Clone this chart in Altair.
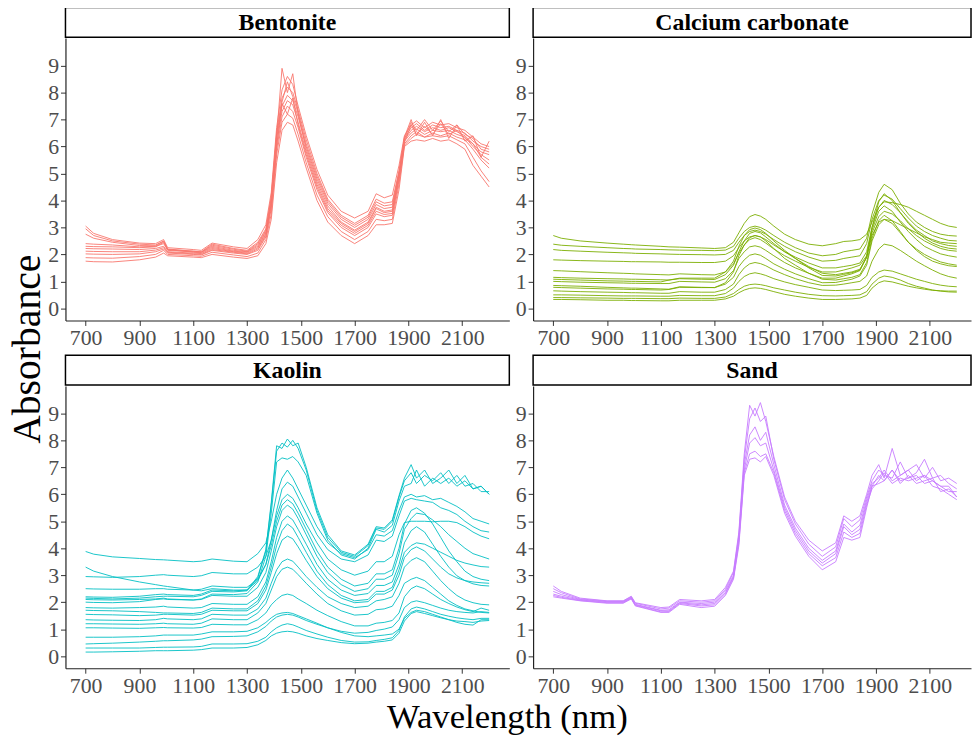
import altair as alt
import pandas as pd

SERIF = "Liberation Serif"

WL = [700, 730, 800, 900, 960, 990, 1005,
      1100, 1130, 1170, 1250, 1300, 1340, 1370,
      1390, 1410, 1430, 1450, 1470, 1490, 1520,
      1560, 1600, 1650, 1700, 1750, 1780, 1810,
      1840, 1865, 1885, 1910, 1930, 1960, 1990,
      2020, 2050, 2080, 2110, 2140, 2170, 2200]

X_TICKS = [700, 900, 1100, 1300, 1500, 1700, 1900, 2100]
Y_TICKS = [0, 1, 2, 3, 4, 5, 6, 7, 8, 9]

PANELS = ["Bentonite", "Calcium carbonate", "Kaolin", "Sand"]
COLORS = ["#F8766D", "#7CAE00", "#00BFC4", "#C77CFF"]

BENTONITE = [
    [1.75, 1.73, 1.72, 1.80, 1.90, 2.05, 1.95,
     1.90, 1.88, 2.00, 1.90, 1.85, 1.95, 2.40,
     3.30, 5.40, 6.60, 6.90, 6.80, 6.20, 5.20,
     4.00, 3.20, 2.70, 2.40, 2.70, 3.10, 3.10,
     3.15, 4.40, 6.00, 6.20, 6.25, 6.20, 6.30,
     6.20, 6.25, 6.10, 5.90, 5.30, 4.90, 4.50],
    [1.88, 1.87, 1.86, 1.92, 2.00, 2.15, 2.00,
     1.95, 1.93, 2.08, 1.98, 1.92, 2.05, 2.55,
     3.50, 5.70, 6.90, 7.20, 7.05, 6.45, 5.40,
     4.20, 3.40, 2.85, 2.55, 2.85, 3.30, 3.25,
     3.30, 4.60, 6.05, 6.30, 6.45, 6.35, 6.40,
     6.35, 6.40, 6.25, 6.10, 5.60, 5.10, 4.70],
    [2.02, 2.01, 2.00, 2.02, 2.10, 2.20, 2.05,
     2.00, 1.98, 2.15, 2.05, 2.00, 2.15, 2.65,
     3.70, 5.90, 7.10, 7.50, 7.30, 6.70, 5.60,
     4.40, 3.55, 3.00, 2.70, 3.00, 3.50, 3.40,
     3.45, 4.75, 6.10, 6.40, 6.55, 6.35, 6.50,
     6.40, 6.50, 6.35, 6.25, 5.90, 5.50, 5.20],
    [2.22, 2.21, 2.20, 2.18, 2.22, 2.30, 2.10,
     2.05, 2.03, 2.22, 2.10, 2.05, 2.25, 2.75,
     3.85, 6.10, 7.30, 7.70, 7.55, 6.90, 5.80,
     4.60, 3.70, 3.15, 2.85, 3.15, 3.70, 3.55,
     3.60, 4.90, 6.20, 6.50, 6.65, 6.45, 6.60,
     6.55, 6.60, 6.45, 6.35, 6.00, 5.70, 5.50],
    [2.40, 2.38, 2.35, 2.28, 2.30, 2.40, 2.15,
     2.10, 2.08, 2.30, 2.15, 2.10, 2.35, 2.85,
     4.00, 6.30, 7.50, 7.90, 7.70, 7.10, 6.00,
     4.80, 3.90, 3.30, 3.00, 3.30, 3.85, 3.70,
     3.75, 5.00, 6.25, 6.60, 6.75, 6.55, 6.70,
     6.60, 6.70, 6.55, 6.40, 6.10, 5.80, 5.70],
    [2.95, 2.70, 2.50, 2.38, 2.35, 2.50, 2.20,
     2.12, 2.10, 2.38, 2.22, 2.15, 2.45, 2.95,
     4.15, 6.50, 7.80, 8.20, 8.00, 7.35, 6.25,
     5.00, 4.05, 3.45, 3.15, 3.45, 4.05, 3.90,
     3.95, 5.10, 6.30, 6.70, 6.85, 6.60, 6.80,
     6.70, 6.75, 6.60, 6.50, 6.20, 6.00, 5.90],
    [3.05, 2.78, 2.55, 2.42, 2.40, 2.55, 2.25,
     2.18, 2.15, 2.42, 2.28, 2.22, 2.55, 3.10,
     4.30, 6.70, 8.10, 8.60, 8.30, 7.50, 6.40,
     5.15, 4.20, 3.60, 3.35, 3.60, 4.25, 4.10,
     4.20, 5.30, 6.40, 6.80, 6.95, 6.70, 6.90,
     6.80, 6.85, 6.70, 6.60, 6.35, 6.10, 6.00],
    [2.30, 2.29, 2.28, 2.25, 2.28, 2.45, 2.18,
     2.08, 2.06, 2.26, 2.12, 2.08, 2.30, 2.80,
     3.90, 6.40, 8.90, 8.00, 8.70, 7.20, 5.90,
     4.70, 3.80, 3.20, 2.90, 3.20, 3.75, 3.60,
     3.65, 4.95, 6.35, 7.00, 6.40, 6.90, 6.40,
     7.00, 6.30, 6.80, 6.20, 6.40, 5.60, 6.20],
    [2.12, 2.11, 2.10, 2.10, 2.16, 2.25, 2.08,
     2.02, 2.00, 2.18, 2.08, 2.02, 2.20, 2.70,
     3.80, 6.00, 7.60, 7.20, 7.80, 6.80, 5.70,
     4.50, 3.62, 3.08, 2.78, 3.08, 3.60, 3.48,
     3.52, 4.82, 6.15, 6.80, 6.45, 6.75, 6.45,
     6.85, 6.45, 6.60, 6.30, 6.10, 5.60, 5.35],
    [2.75, 2.60, 2.45, 2.33, 2.32, 2.48, 2.18,
     2.12, 2.09, 2.34, 2.19, 2.12, 2.40, 2.90,
     4.08, 6.40, 7.65, 8.40, 7.85, 7.25, 6.10,
     4.90, 3.98, 3.38, 3.08, 3.38, 3.95, 3.80,
     3.85, 5.05, 6.28, 6.90, 6.60, 7.00, 6.60,
     6.95, 6.55, 6.80, 6.45, 6.30, 5.90, 5.80],
]

CALCIUM = [
    [2.70, 2.60, 2.50, 2.42, 2.38, 2.36, 2.35,
     2.30, 2.28, 2.27, 2.24, 2.22, 2.25, 2.45,
     2.80, 3.15, 3.40, 3.48, 3.42, 3.30, 3.05,
     2.75, 2.55, 2.38, 2.32, 2.40, 2.48, 2.50,
     2.55, 2.75, 3.20, 3.75, 3.95, 3.92, 3.85,
     3.75, 3.60, 3.45, 3.30, 3.15, 3.05, 3.00],
    [2.38, 2.34, 2.30, 2.25, 2.22, 2.21, 2.20,
     2.18, 2.17, 2.16, 2.15, 2.14, 2.16, 2.30,
     2.60, 2.85, 3.00, 3.05, 3.00, 2.90, 2.70,
     2.45, 2.25, 2.05, 1.95, 2.00, 2.10, 2.15,
     2.20, 2.60, 3.50, 4.30, 4.60, 4.40, 3.90,
     3.50, 3.20, 3.00, 2.85, 2.75, 2.70, 2.68],
    [2.18, 2.15, 2.12, 2.08, 2.06, 2.05, 2.04,
     2.02, 2.01, 2.00, 1.99, 1.98, 2.00, 2.15,
     2.45, 2.70, 2.85, 2.90, 2.85, 2.75, 2.55,
     2.30, 2.10, 1.90, 1.75, 1.78, 1.85, 1.90,
     1.95, 2.40, 3.30, 4.00, 4.20, 4.05, 3.70,
     3.35, 3.05, 2.85, 2.70, 2.60, 2.52, 2.50],
    [1.80, 1.79, 1.77, 1.75, 1.74, 1.73, 1.73,
     1.72, 1.71, 1.71, 1.70, 1.70, 1.75, 1.95,
     2.25, 2.50, 2.65, 2.70, 2.65, 2.55, 2.35,
     2.10, 1.90, 1.68, 1.50, 1.50, 1.55, 1.60,
     1.68, 2.10, 3.00, 3.75, 4.00, 3.85, 3.55,
     3.20, 2.90, 2.70, 2.50, 2.40, 2.33, 2.30],
    [1.40, 1.39, 1.36, 1.32, 1.30, 1.29, 1.28,
     1.25, 1.24, 1.28, 1.25, 1.24, 1.35, 1.65,
     2.05, 2.35, 2.55, 2.62, 2.55, 2.42, 2.20,
     1.95, 1.75, 1.52, 1.35, 1.35, 1.42, 1.50,
     1.60, 1.95, 2.80, 3.40, 3.60, 3.50, 3.25,
     2.95, 2.70, 2.50, 2.35, 2.22, 2.15, 2.12],
    [1.15, 1.14, 1.12, 1.10, 1.09, 1.08, 1.08,
     1.06, 1.05, 1.10, 1.08, 1.07, 1.25, 1.60,
     2.10, 2.50, 2.78, 2.85, 2.80, 2.65, 2.40,
     2.10, 1.85, 1.55, 1.30, 1.25, 1.30, 1.35,
     1.45, 1.90, 2.70, 3.20, 3.30, 3.25, 3.10,
     2.95, 2.80, 2.65, 2.55, 2.45, 2.42, 2.40],
    [1.00, 0.99, 0.97, 0.95, 0.94, 0.93, 0.93,
     0.92, 0.92, 1.00, 0.98, 0.97, 1.10, 1.40,
     1.85, 2.10, 2.28, 2.32, 2.27, 2.15, 1.95,
     1.70, 1.50, 1.30, 1.12, 1.12, 1.20, 1.28,
     1.40, 1.90, 2.90, 3.60, 3.80, 3.60, 3.20,
     2.85, 2.55, 2.30, 2.15, 2.02, 1.95, 1.90],
    [0.85, 0.84, 0.82, 0.78, 0.76, 0.75, 0.75,
     0.72, 0.71, 0.80, 0.78, 0.77, 0.90, 1.15,
     1.55, 1.80, 1.97, 2.02, 1.97, 1.85, 1.65,
     1.45, 1.28, 1.10, 0.95, 0.96, 1.02, 1.08,
     1.20, 1.60, 2.50, 3.10, 3.30, 3.15, 2.80,
     2.45, 2.20, 2.00, 1.85, 1.72, 1.65, 1.60],
    [0.65, 0.64, 0.62, 0.60, 0.59, 0.58, 0.58,
     0.56, 0.56, 0.62, 0.60, 0.60, 0.70, 0.90,
     1.25, 1.50, 1.65, 1.70, 1.66, 1.58, 1.42,
     1.25, 1.10, 0.95, 0.85, 0.86, 0.90, 0.95,
     1.00, 1.20, 1.75, 2.20, 2.38, 2.32, 2.15,
     1.95, 1.75, 1.58, 1.42, 1.28, 1.18, 1.12],
    [0.50, 0.50, 0.49, 0.47, 0.46, 0.46, 0.46,
     0.45, 0.45, 0.48, 0.47, 0.47, 0.55, 0.75,
     1.00, 1.18, 1.28, 1.32, 1.28, 1.22, 1.10,
     0.98, 0.88, 0.78, 0.68, 0.66, 0.67, 0.68,
     0.70, 0.85, 1.15, 1.35, 1.42, 1.38, 1.28,
     1.18, 1.08, 1.00, 0.92, 0.86, 0.82, 0.80],
    [0.40, 0.40, 0.39, 0.38, 0.37, 0.37, 0.37,
     0.36, 0.36, 0.38, 0.37, 0.37, 0.42, 0.55,
     0.70, 0.82, 0.88, 0.90, 0.88, 0.84, 0.76,
     0.68, 0.60, 0.52, 0.47, 0.46, 0.47, 0.48,
     0.50, 0.62, 0.90, 1.12, 1.20, 1.15, 1.05,
     0.92, 0.82, 0.75, 0.68, 0.64, 0.61, 0.60],
    [0.33, 0.33, 0.32, 0.30, 0.30, 0.29, 0.29,
     0.28, 0.28, 0.30, 0.30, 0.30, 0.35, 0.45,
     0.58, 0.68, 0.74, 0.76, 0.74, 0.70, 0.62,
     0.52, 0.45, 0.38, 0.33, 0.33, 0.34, 0.35,
     0.38, 0.48, 0.75, 0.95, 1.02, 0.98, 0.90,
     0.82, 0.76, 0.71, 0.67, 0.65, 0.64, 0.64],
    [1.08, 1.07, 1.05, 1.02, 1.01, 1.00, 1.00,
     0.98, 1.05, 1.12, 1.12, 1.12, 1.35, 1.75,
     2.30, 2.70, 2.92, 2.98, 2.92, 2.78, 2.50,
     2.15, 1.85, 1.50, 1.22, 1.20, 1.26, 1.32,
     1.42, 1.90, 3.00, 3.95, 4.25, 4.00, 3.55,
     3.15, 2.85, 2.60, 2.42, 2.30, 2.23, 2.20],
    [0.78, 0.77, 0.75, 0.72, 0.71, 0.70, 0.70,
     0.68, 0.70, 0.78, 0.77, 0.77, 0.95, 1.35,
     1.95, 2.35, 2.62, 2.70, 2.65, 2.50, 2.22,
     1.85, 1.60, 1.30, 1.08, 1.05, 1.10, 1.15,
     1.25, 1.70, 2.60, 3.25, 3.45, 3.25, 2.85,
     2.45, 2.15, 1.92, 1.75, 1.65, 1.58, 1.55],
]

KAOLIN = [
    [2.15, 2.14, 2.12, 2.15, 2.20, 2.22, 2.22,
     2.20, 2.25, 2.40, 2.38, 2.42, 2.90, 3.90,
     5.60, 7.60, 7.90, 7.75, 8.00, 7.70, 6.90,
     5.40, 4.40, 3.85, 3.70, 4.10, 4.75, 4.70,
     5.00, 5.90, 6.50, 6.80, 6.40, 6.70, 6.50,
     6.80, 6.40, 6.70, 6.30, 6.40, 6.10, 6.10],
    [2.00, 1.99, 1.98, 2.02, 2.10, 2.12, 2.10,
     2.08, 2.12, 2.30, 2.28, 2.32, 2.75, 3.70,
     5.30, 7.20, 7.35, 7.30, 7.40, 7.20, 6.70,
     5.30, 4.30, 3.75, 3.60, 4.00, 4.70, 4.60,
     4.85, 5.75, 6.30, 6.40, 6.90, 6.30, 6.60,
     6.40, 6.60, 6.30, 6.50, 6.20, 6.30, 6.00],
    [3.88, 3.78, 3.68, 3.62, 3.58, 3.57, 3.56,
     3.50, 3.52, 3.60, 3.52, 3.50, 3.80, 4.20,
     5.00, 6.00, 6.60, 6.90, 6.60, 6.20, 5.60,
     4.80, 4.20, 3.80, 3.65, 3.95, 4.50, 4.45,
     4.65, 5.40, 5.90, 6.00, 5.90, 5.95, 5.80,
     5.85, 5.70, 5.55, 5.35, 5.10, 5.00, 4.90],
    [3.30, 3.15, 2.95, 2.75, 2.65, 2.60, 2.58,
     2.45, 2.42, 2.50, 2.45, 2.45, 2.80, 3.40,
     4.30, 5.40, 6.20, 6.45, 6.30, 5.90, 5.30,
     4.50, 3.95, 3.60, 3.50, 3.75, 4.30, 4.25,
     4.45, 5.20, 5.75, 5.85, 5.80, 5.75, 5.70,
     5.50, 5.40, 5.25, 5.00, 4.80, 4.65, 4.60],
    [2.95, 2.94, 2.92, 2.95, 3.00, 3.02, 3.00,
     2.95, 2.98, 3.10, 3.05, 3.05, 3.30, 3.70,
     4.30, 5.20, 5.80, 6.00, 5.85, 5.50, 4.90,
     4.20, 3.60, 3.20, 3.00, 3.15, 3.50, 3.50,
     3.70, 4.50, 4.95, 5.00, 5.00, 5.00, 4.98,
     5.00, 5.00, 4.95, 4.80, 4.60, 4.45, 4.35],
    [2.50, 2.49, 2.48, 2.48, 2.50, 2.50, 2.48,
     2.45, 2.48, 2.60, 2.55, 2.55, 2.85, 3.40,
     4.10, 5.00, 5.60, 5.80, 5.65, 5.30, 4.70,
     3.90, 3.30, 2.85, 2.60, 2.70, 3.05, 3.05,
     3.20, 4.00, 4.90, 5.40, 5.50, 5.30, 4.90,
     4.40, 3.90, 3.50, 3.15, 2.95, 2.85, 2.80],
    [2.10, 2.09, 2.08, 2.10, 2.12, 2.15, 2.12,
     2.08, 2.10, 2.25, 2.22, 2.22, 2.55, 3.10,
     3.90, 4.80, 5.40, 5.60, 5.45, 5.10, 4.50,
     3.70, 3.10, 2.65, 2.40, 2.50, 2.85, 2.85,
     3.00, 3.80, 4.70, 5.10, 5.30, 5.25, 5.05,
     4.80, 4.50, 4.25, 4.00, 3.80, 3.70, 3.60],
    [1.80, 1.79, 1.78, 1.80, 1.82, 1.85, 1.82,
     1.78, 1.80, 1.95, 1.92, 1.92, 2.20, 2.75,
     3.50, 4.40, 5.00, 5.20, 5.05, 4.70, 4.15,
     3.40, 2.85, 2.45, 2.25, 2.32, 2.62, 2.62,
     2.75, 3.40, 4.20, 4.65, 4.80, 4.60, 4.15,
     3.70, 3.30, 2.98, 2.80, 2.68, 2.62, 2.60],
    [1.70, 1.69, 1.68, 1.65, 1.62, 1.60, 1.60,
     1.58, 1.62, 1.78, 1.75, 1.75, 2.05, 2.60,
     3.30, 4.10, 4.65, 4.90, 4.75, 4.40, 3.85,
     3.15, 2.65, 2.25, 2.05, 2.10, 2.40, 2.40,
     2.55, 3.20, 3.85, 4.10, 4.20, 4.15, 4.00,
     3.85, 3.70, 3.55, 3.45, 3.38, 3.32, 3.30],
    [1.55, 1.54, 1.53, 1.50, 1.52, 1.55, 1.55,
     1.52, 1.55, 1.70, 1.68, 1.68, 1.95, 2.45,
     3.10, 3.80, 4.30, 4.45, 4.35, 4.05, 3.55,
     2.95, 2.50, 2.15, 1.98, 2.02, 2.30, 2.30,
     2.45, 3.00, 3.65, 3.95, 4.05, 3.90, 3.60,
     3.30, 3.05, 2.90, 2.80, 2.75, 2.72, 2.70],
    [1.35, 1.34, 1.33, 1.32, 1.35, 1.40, 1.38,
     1.35, 1.38, 1.55, 1.52, 1.52, 1.75, 2.15,
     2.70, 3.20, 3.50, 3.60, 3.52, 3.30, 2.95,
     2.55, 2.20, 1.95, 1.80, 1.85, 2.05, 2.10,
     2.20, 2.70, 3.30, 3.55, 3.65, 3.50, 3.15,
     2.80, 2.50, 2.25, 2.08, 1.98, 1.92, 1.90],
    [1.20, 1.20, 1.19, 1.18, 1.20, 1.22, 1.20,
     1.18, 1.22, 1.38, 1.35, 1.35, 1.60, 1.95,
     2.45, 2.95, 3.22, 3.30, 3.22, 3.02, 2.70,
     2.30, 1.95, 1.68, 1.52, 1.55, 1.72, 1.75,
     1.85, 2.25, 2.70, 2.85, 2.92, 2.80, 2.55,
     2.30, 2.05, 1.88, 1.75, 1.68, 1.62, 1.60],
    [1.05, 1.05, 1.04, 1.03, 1.05, 1.06, 1.05,
     1.04, 1.06, 1.18, 1.16, 1.16, 1.35, 1.60,
     1.90, 2.10, 2.25, 2.30, 2.25, 2.12, 1.95,
     1.70, 1.50, 1.28, 1.12, 1.12, 1.22, 1.25,
     1.32, 1.60, 2.20, 2.50, 2.60, 2.50, 2.30,
     2.10, 1.95, 1.82, 1.72, 1.65, 1.78, 1.70],
    [0.70, 0.70, 0.70, 0.72, 0.75, 0.78, 0.78,
     0.78, 0.82, 0.90, 0.90, 0.92, 1.05, 1.25,
     1.42, 1.55, 1.60, 1.62, 1.58, 1.50, 1.38,
     1.22, 1.05, 0.88, 0.75, 0.72, 0.75, 0.78,
     0.82, 1.00, 1.40, 1.62, 1.70, 1.65, 1.55,
     1.45, 1.35, 1.25, 1.18, 1.15, 1.35, 1.35],
    [0.30, 0.30, 0.30, 0.30, 0.32, 0.33, 0.33,
     0.34, 0.36, 0.45, 0.45, 0.46, 0.55, 0.70,
     0.90, 1.05, 1.15, 1.20, 1.16, 1.08, 0.95,
     0.82, 0.70, 0.58, 0.52, 0.53, 0.58, 0.62,
     0.68, 0.95, 1.45, 1.75, 1.82, 1.75, 1.65,
     1.55, 1.48, 1.42, 1.38, 1.35, 1.40, 1.40],
    [0.15, 0.15, 0.16, 0.18, 0.20, 0.20, 0.20,
     0.22, 0.24, 0.30, 0.30, 0.32, 0.42, 0.58,
     0.75, 0.85, 0.90, 0.92, 0.90, 0.85, 0.75,
     0.65, 0.58, 0.50, 0.46, 0.48, 0.52, 0.55,
     0.60, 0.85, 1.30, 1.58, 1.65, 1.58, 1.50,
     1.42, 1.35, 1.30, 1.28, 1.25, 1.30, 1.32],
    [0.45, 0.46, 0.48, 0.52, 0.55, 0.57, 0.57,
     0.60, 0.63, 0.72, 0.73, 0.75, 0.90, 1.10,
     1.30, 1.45, 1.52, 1.55, 1.52, 1.45, 1.32,
     1.18, 1.05, 0.92, 0.85, 0.88, 0.95, 1.00,
     1.08, 1.35, 1.80, 2.00, 2.05, 1.98, 1.88,
     1.78, 1.70, 1.65, 1.62, 1.60, 1.65, 1.62],
    [2.20, 2.19, 2.18, 2.22, 2.28, 2.30, 2.28,
     2.25, 2.30, 2.45, 2.42, 2.45, 2.95, 3.95,
     5.70, 7.80, 7.70, 8.05, 7.80, 7.90, 7.00,
     5.50, 4.50, 3.90, 3.75, 4.15, 4.80, 4.75,
     5.05, 5.95, 6.60, 7.10, 6.60, 6.90, 6.40,
     6.60, 6.90, 6.40, 6.70, 6.20, 6.30, 6.00],
]

SAND = [
    [2.60, 2.40, 2.15, 2.05, 2.05, 2.22, 1.98,
     1.80, 1.82, 2.10, 2.05, 2.10, 2.55, 3.15,
     4.60, 7.50, 9.30, 8.90, 9.40, 8.70, 7.40,
     5.90, 5.00, 4.30, 3.90, 4.20, 5.20, 5.00,
     5.20, 6.00, 6.70, 7.10, 6.60, 7.70, 6.70,
     6.90, 7.10, 6.60, 7.00, 6.50, 6.60, 6.40],
    [2.50, 2.35, 2.12, 2.04, 2.04, 2.20, 1.96,
     1.75, 1.78, 2.05, 2.00, 2.05, 2.48, 3.10,
     4.50, 7.30, 8.80, 9.20, 8.70, 8.90, 7.30,
     5.80, 4.90, 4.15, 3.70, 4.05, 5.10, 4.80,
     5.05, 5.90, 6.50, 6.90, 6.70, 6.60, 7.20,
     6.60, 6.80, 7.30, 6.60, 6.70, 6.40, 6.20],
    [2.40, 2.28, 2.10, 2.02, 2.02, 2.18, 1.92,
     1.70, 1.72, 2.00, 1.95, 2.00, 2.42, 3.00,
     4.40, 7.10, 8.20, 8.50, 8.00, 8.30, 7.10,
     5.60, 4.75, 4.00, 3.55, 3.90, 4.90, 4.60,
     4.85, 5.80, 6.40, 6.60, 6.90, 6.50, 6.70,
     6.90, 6.50, 6.70, 6.50, 6.30, 6.30, 5.90],
    [2.30, 2.22, 2.08, 2.00, 2.00, 2.16, 1.90,
     1.68, 1.68, 1.98, 1.90, 1.95, 2.35, 2.95,
     4.30, 6.90, 7.90, 8.10, 7.80, 7.90, 6.90,
     5.50, 4.65, 3.90, 3.45, 3.80, 4.80, 4.50,
     4.70, 5.70, 6.30, 6.70, 6.50, 6.90, 6.50,
     6.60, 6.70, 6.40, 6.50, 6.30, 6.10, 6.10],
    [2.25, 2.18, 2.06, 1.98, 1.98, 2.14, 1.88,
     1.64, 1.65, 1.95, 1.86, 1.90, 2.30, 2.90,
     4.20, 6.80, 7.50, 7.60, 7.40, 7.50, 6.80,
     5.40, 4.55, 3.80, 3.35, 3.65, 4.60, 4.40,
     4.55, 5.60, 6.20, 6.50, 6.80, 6.40, 6.60,
     6.50, 6.60, 6.70, 6.30, 6.20, 6.00, 5.80],
    [2.20, 2.15, 2.05, 1.96, 1.96, 2.12, 1.86,
     1.62, 1.62, 1.92, 1.80, 1.85, 2.25, 2.85,
     4.10, 6.70, 7.30, 7.35, 7.20, 7.40, 6.70,
     5.30, 4.45, 3.70, 3.20, 3.50, 4.40, 4.30,
     4.40, 5.50, 6.30, 6.40, 6.50, 6.90, 6.40,
     6.70, 6.40, 6.50, 6.60, 6.10, 6.20, 5.90],
]

SERIES = {"Bentonite": BENTONITE, "Calcium carbonate": CALCIUM,
          "Kaolin": KAOLIN, "Sand": SAND}

rows = []
for name, curves in SERIES.items():
    for i, curve in enumerate(curves):
        assert len(curve) == len(WL), (name, i, len(curve))
        for w, v in zip(WL, curve):
            rows.append({"panel": name, "curve": f"{name}-{i}", "wl": w, "abs": v})
data = pd.DataFrame(rows)

AX = dict(labelFont=SERIF, labelFontSize=22, labelColor="#4D4D4D",
          tickColor="#333333", tickSize=5, labelPadding=2,
          domainColor="#222222", domainWidth=1.2, grid=False, title=None)


def panel(name, color, width, xmax):
    strip = alt.Chart(pd.DataFrame({"t": [name]})).mark_text(
        font=SERIF, fontWeight="bold", fontSize=24, color="black",
        baseline="middle", align="center"
    ).encode(
        text="t:N", x=alt.value(width / 2), y=alt.value(16)
    ).properties(width=width, height=30,
                 view=alt.ViewBackground(stroke="black", strokeWidth=1.5))
    lines = alt.Chart(data[data["panel"] == name]).mark_line(
        strokeWidth=0.9, color=color, clip=True
    ).encode(
        x=alt.X("wl:Q", scale=alt.Scale(domain=[625, xmax], nice=False, zero=False),
                axis=alt.Axis(values=X_TICKS, format="d", **AX)),
        y=alt.Y("abs:Q", scale=alt.Scale(domain=[-0.45, 10.02], nice=False, zero=False),
                axis=alt.Axis(values=Y_TICKS, format="d", **AX)),
        detail="curve:N",
    ).properties(width=width, height=285)
    return alt.vconcat(strip, lines, spacing=0)


top = alt.hconcat(panel(PANELS[0], COLORS[0], 448, 2275),
                  panel(PANELS[1], COLORS[1], 442, 2253), spacing=5)
bottom = alt.hconcat(panel(PANELS[2], COLORS[2], 448, 2275),
                     panel(PANELS[3], COLORS[3], 442, 2253), spacing=5)
grid = alt.vconcat(top, bottom, spacing=6)

ytitle = alt.Chart(pd.DataFrame({"t": ["Absorbance"]})).mark_text(
    angle=270, font=SERIF, fontSize=40, color="black", baseline="middle", align="center"
).encode(text="t:N", x=alt.value(20), y=alt.value(345)).properties(width=40, height=680)

xtitle = alt.Chart(pd.DataFrame({"t": ["Wavelength (nm)"]})).mark_text(
    font=SERIF, fontSize=35, color="black", baseline="middle", align="center"
).encode(text="t:N", x=alt.value(504), y=alt.value(21)).properties(width=960, height=38)

chart = alt.vconcat(
    alt.hconcat(ytitle, grid, spacing=0),
    xtitle, spacing=0
).properties(
    padding={"left": 0, "top": -5, "right": 0, "bottom": 0},
    background="white"
).configure_view(strokeWidth=0)

chart.save("out.html", embed_options={"renderer": "svg", "actions": False})
